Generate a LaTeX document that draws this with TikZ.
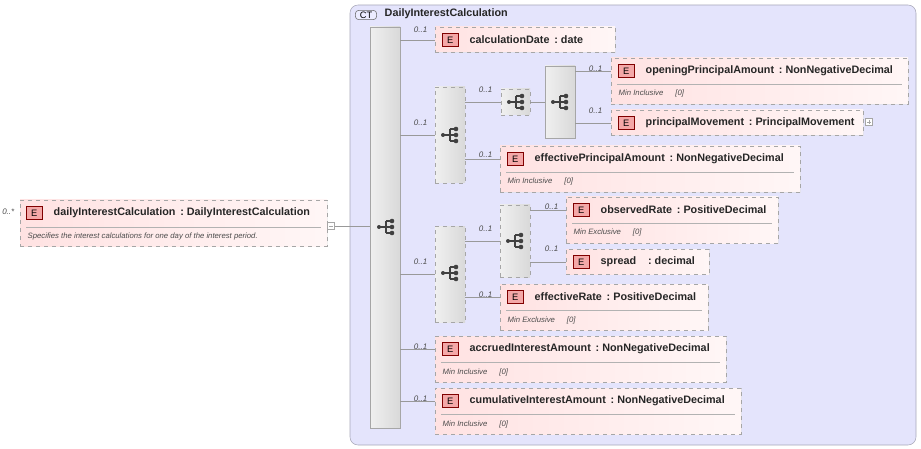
\documentclass[tikz,border=0pt]{standalone}
\usepackage{fontspec}
\setmainfont{Liberation Sans}
\usetikzlibrary{fit,shadows}
\definecolor{ctfill}{HTML}{E4E4FC}
\definecolor{ctline}{HTML}{A8A8B8}
\definecolor{elfill}{HTML}{FFE2E2}
\definecolor{badge}{HTML}{F4A8A8}
\tikzset{
  elem/.style={draw=gray!70, dashed, left color=elfill, right color=elfill!30, inner sep=0pt,
    drop shadow={shadow xshift=1pt, shadow yshift=-1pt, fill=gray!25}},
  grp/.style={draw=gray!70, left color=gray!12, right color=gray!30, inner sep=0pt},
  dgrp/.style={grp, dashed},
  conn/.style={draw=gray!80, line width=0.5pt},
  occ/.style={font=\fontsize{6}{7}\selectfont\itshape, text=black!70, anchor=south east},
  title/.style={font=\fontsize{8.1}{9}\selectfont\bfseries, text=black!85, anchor=west},
  facet/.style={font=\fontsize{5.8}{7}\selectfont\itshape, text=black!70, anchor=west},
  ebadge/.style={draw=red!50!black, fill=badge, font=\fontsize{7}{8}\selectfont, minimum width=12pt,
    minimum height=10pt, inner sep=0pt, anchor=west}
}
\newcommand{\seqicon}[1]{%
  \begin{scope}[shift={(#1)}]
    \fill[black!75] (-8,0) circle (2);
    \draw[black!75, line width=0.8pt] (-8,0) -- (-1,0) (-1,-6) -- (-1,6) (-1,-6) -- (4,-6) (-1,6) -- (4,6) (-1,0) -- (4,0);
    \foreach \yy in {-6,0,6} \fill[black!75] (5,\yy) circle (2.3);
  \end{scope}}
\begin{document}
\begin{tikzpicture}[x=0.75pt, y=-0.75pt]
\useasboundingbox (0,0) rectangle (921,449);

% complex type frame
\node[draw=ctline, fill=ctfill, rounded corners=6pt, inner sep=0pt, fit={(350,5) (916,445)}] (ct) {};
\node[draw=black!60, fill=ctfill!70!blue!20, rounded corners=2.5pt, font=\fontsize{7}{8}\selectfont, inner sep=1pt, minimum width=16pt] (ctb) at (366,15) {CT};
\node[title] (ctt) at (380,14) {DailyInterestCalculation};

% root element
\node[elem, fit={(20,200) (327,246)}] (root) {};
\draw[gray!60] (26,227) -- (321,227);
\node[ebadge] (rootb) at (26,213) {E};
\node[title] at (49,213) {dailyInterestCalculation\ \,:\ DailyInterestCalculation};
\node[facet] at (23,237) {Specifies the interest calculations for one day of the interest period.};
\node[occ] at (19,219) {0..*};
\node[draw=gray!70, fill=white, inner sep=0pt, minimum size=5.5pt] (rminus) at (331,226) {};
\draw[gray!70] (329,226) -- (333,226);

% main sequence
\node[grp, fit={(370,27) (400,428)}] (seq) {};
\seqicon{387,227}
\draw[conn] (rminus) -- (seq.west |- rminus);

% element macro: name, x1, y1, x2, y2, title, facet
\newcommand{\elnode}[7]{%
  \node[elem, fit={(#2,#3) (#4,#5)}] (#1) {};
  \coordinate (#1-in) at (#2,#3+13);
  \node[ebadge] at (#2+7,#3+13) {E};
  \node[title] at (#2+30,#3+13) {#6};
  \ifx&#7&\else
    \draw[gray!60] (#2+6,#3+26) -- (#4-6,#3+26);
    \node[facet] at (#2+3,#3+36) {#7\hspace{9pt}[0]};
  \fi}

\elnode{cd}{435}{27}{615}{52}{calculationDate\ \,:\ date}{}
\elnode{opa}{611}{58}{908}{104}{openingPrincipalAmount\ \,:\ NonNegativeDecimal}{Min Inclusive}
\elnode{pm}{611}{110}{863}{135}{principalMovement\ \,:\ PrincipalMovement}{}
\elnode{epa}{500}{146}{800}{192}{effectivePrincipalAmount\ \,:\ NonNegativeDecimal}{Min Inclusive}
\elnode{obr}{566}{197}{778}{243}{observedRate\ \,:\ PositiveDecimal}{Min Exclusive}
\elnode{spr}{566}{249}{709}{274}{spread\ \ \ \ :\ decimal}{}
\elnode{er}{500}{284}{708}{330}{effectiveRate\ \,:\ PositiveDecimal}{Min Exclusive}
\elnode{aia}{435}{336}{726}{382}{accruedInterestAmount\ \,:\ NonNegativeDecimal}{Min Inclusive}
\elnode{cia}{435}{388}{741}{434}{cumulativeInterestAmount\ \,:\ NonNegativeDecimal}{Min Inclusive}
\node[draw=gray!70, fill=white, inner sep=0pt, minimum size=5.5pt] (pmplus) at (869,122) {};
\draw[gray!70] (867,122) -- (871,122) (869,120) -- (869,124);

% groups
\node[dgrp, fit={(435,87) (465,183)}] (ch1) {};
\seqicon{451,135}
\node[dgrp, fit={(501,89) (530,115)}] (ch1a) {};
\seqicon{517,102}
\node[grp, fit={(545,66) (575,138)}] (sq1) {};
\seqicon{561,102}
\node[dgrp, fit={(435,226) (465,322)}] (ch2) {};
\seqicon{451,273}
\node[dgrp, fit={(500,205) (530,277)}] (ch2a) {};
\seqicon{516,241}

% connectors
\draw[conn] (seq.east |- cd-in) -- (cd-in);
\draw[conn] (seq.east |- ch1) -- (ch1);
\draw[conn] (ch1.east |- ch1a) -- (ch1a);
\draw[conn] (ch1a) -- (sq1);
\draw[conn] (sq1.east |- opa-in) -- (opa-in);
\draw[conn] (sq1.east |- pm-in) -- (pm-in);
\draw[conn] (ch1.east |- epa-in) -- (epa-in);
\draw[conn] (seq.east |- ch2) -- (ch2);
\draw[conn] (ch2.east |- ch2a) -- (ch2a);
\draw[conn] (ch2a.east |- obr-in) -- (obr-in);
\draw[conn] (ch2a.east |- spr-in) -- (spr-in);
\draw[conn] (ch2.east |- er-in) -- (er-in);
\draw[conn] (seq.east |- aia-in) -- (aia-in);
\draw[conn] (seq.east |- cia-in) -- (cia-in);

% occurrences
\node[occ] at (432,37) {0..1};
\node[occ] at (432,130) {0..1};
\node[occ] at (497,97) {0..1};
\node[occ] at (607,76) {0..1};
\node[occ] at (607,118) {0..1};
\node[occ] at (497,162) {0..1};
\node[occ] at (432,269) {0..1};
\node[occ] at (497,236) {0..1};
\node[occ] at (563,214) {0..1};
\node[occ] at (563,256) {0..1};
\node[occ] at (497,302) {0..1};
\node[occ] at (432,354) {0..1};
\node[occ] at (432,406) {0..1};
\end{tikzpicture}
\end{document}
